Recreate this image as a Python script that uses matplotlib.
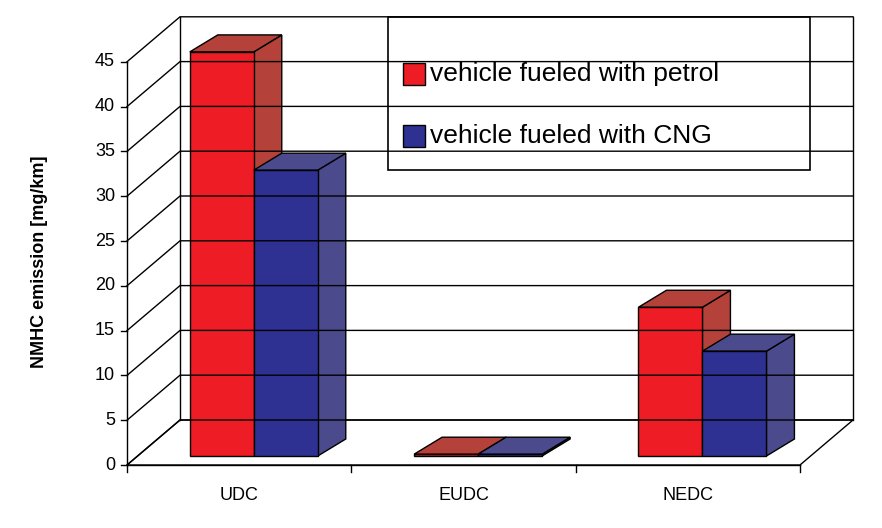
import matplotlib
matplotlib.use("Agg")
import matplotlib.pyplot as plt
from matplotlib.patches import Polygon, Rectangle

plt.rcParams["font.family"] = "Liberation Sans"

categories = ["UDC", "EUDC", "NEDC"]
petrol = [45.1, 0.2, 16.6]
cng = [31.9, 0.2, 11.7]
yticks = [0, 5, 10, 15, 20, 25, 30, 35, 40, 45]
series_names = ["vehicle fueled with petrol", "vehicle fueled with CNG"]

fig = plt.figure(figsize=(8.82, 5.28), dpi=100)
ax = fig.add_axes([0, 0, 1, 1])
ax.set_xlim(0, 882); ax.set_ylim(528, 0); ax.axis("off")

X0, Y0, PPU = 127, 465, 8.96
DX, DY = 53, -45
XR = 800
def yp(v): return Y0 - v * PPU

ax.add_patch(Polygon([(X0, Y0), (XR, Y0), (XR+DX, Y0+DY), (X0+DX, Y0+DY)], closed=True, fc="white", ec="black", lw=1))
ax.plot([X0+DX, X0+DX], [yp(0)+DY, yp(45)+DY], color="black", lw=1)
ax.plot([XR+DX, XR+DX], [yp(0)+DY, yp(45)+DY], color="black", lw=1)
ax.plot([X0, X0], [yp(0), yp(45)], color="black", lw=1)
for v in yticks:
    ax.plot([X0, X0+DX, XR+DX], [yp(v), yp(v)+DY, yp(v)+DY], color="black", lw=1)
    ax.plot([X0-6, X0], [yp(v), yp(v)], color="black", lw=1)
    ax.text(X0-12, yp(v), str(v), ha="right", va="center", fontsize=13)
ax.plot([X0, XR], [Y0, Y0], color="black", lw=1)
step = (XR - X0) / 3
for i in range(4):
    ax.plot([X0+i*step]*2, [Y0, Y0+7], color="black", lw=1)
for i, c in enumerate(categories):
    ax.text(X0 + (i+0.5)*step, 495, c, ha="center", va="center", fontsize=13)

ax.text(40, 262, "NMHC emission [mg/km]", rotation=90, ha="center", va="center", fontsize=13, fontweight="bold")

W = 64
bdx, bdy = 28, -17
ox, oy = 10.6, -9
cols = [("#ee1c24", "#b5423a"), ("#2e3192", "#4b4a8c")]
for i in range(3):
    cx = X0 + (i+0.5)*step + 4
    for j, vals in enumerate([petrol, cng]):
        x1 = cx - W + j*W + ox
        x2 = x1 + W
        yb = yp(0) + oy
        yt = yp(vals[i]) + oy
        front, dark = cols[j]
        ax.add_patch(Polygon([(x2, yb), (x2+bdx, yb+bdy), (x2+bdx, yt+bdy), (x2, yt)], closed=True, fc=dark, ec="black", lw=1))
        ax.add_patch(Polygon([(x1, yt), (x2, yt), (x2+bdx, yt+bdy), (x1+bdx, yt+bdy)], closed=True, fc=dark, ec="black", lw=1))
        ax.add_patch(Rectangle((x1, yt), W, yb-yt, fc=front, ec="black", lw=1))

ax.add_patch(Rectangle((388, 17), 422, 153, fc="white", ec="black", lw=1.2))
for j, name in enumerate(series_names):
    y = 74 + j*62
    ax.add_patch(Rectangle((403, y-11), 22, 22, fc=cols[j][0], ec="black", lw=1))
    ax.text(430, y, name, ha="left", va="center", fontsize=19)

fig.savefig("out.png", dpi=100)
